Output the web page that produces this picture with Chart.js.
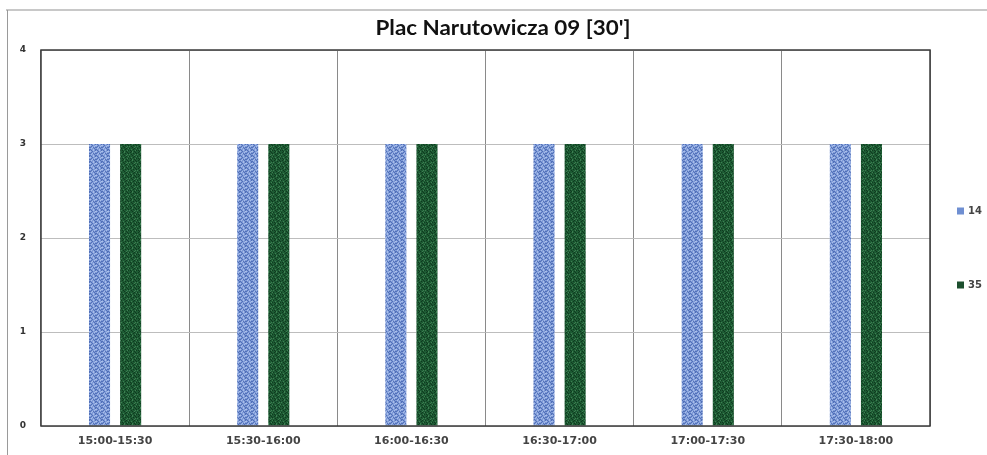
<!DOCTYPE html>
<html>
<head>
<meta charset="utf-8">
<script src="https://cdn.jsdelivr.net/npm/chart.js@4"></script>
<style>
html,body{margin:0;padding:0;background:#fff;}
#wrap{width:987px;height:455px;position:relative;}
</style>
</head>
<body>
<div id="wrap"><canvas id="c" width="987" height="455"></canvas></div>
<script>
const categories = ["15:00-15:30","15:30-16:00","16:00-16:30","16:30-17:00","17:00-17:30","17:30-18:00"];
const seriesNames = ["14","35"];
const values14 = [3,3,3,3,3,3];
const values35 = [3,3,3,3,3,3];
const yTicks = [0,1,2,3,4];
const titleText = "Plac Narutowicza 09 [30']";

function makePattern(colors, tile){
  const n = tile.length;
  const cv = document.createElement('canvas');
  cv.width = n; cv.height = n;
  const g = cv.getContext('2d');
  for(let y=0;y<n;y++) for(let x=0;x<n;x++){
    g.fillStyle = colors[tile[y][x]];
    g.fillRect(x,y,1,1);
  }
  return g.createPattern(cv,'repeat');
}
const blueTile = [
  [0,1,0,2,0,1],
  [2,0,1,0,0,2],
  [0,1,0,0,2,0],
  [1,0,2,1,0,1],
  [0,2,0,0,1,0],
  [1,0,0,2,0,1]
];
const greenTile = [
  [0,0,1,0,2,0,0,1],
  [1,0,0,0,0,1,0,0],
  [0,2,0,1,0,0,0,2],
  [0,0,0,0,1,0,2,0],
  [2,1,0,0,0,0,1,0],
  [0,0,0,2,0,1,0,0],
  [1,0,1,0,0,0,0,2],
  [0,0,0,1,2,0,1,0]
];
const bluePat = makePattern(['#7f9bd8','#5271b8','#a9bfea'], blueTile);
const greenPat = makePattern(['#1d5a33','#0f3a1f','#3d7f52'], greenTile);
const legendColors = ['#6f8fd2','#1c4f2e'];

const framePlugin = {
  id:'frame',
  beforeDraw(chart){
    const c = chart.ctx;
    c.save();
    c.strokeStyle = '#c8c8c8'; c.lineWidth = 2;
    c.beginPath(); c.moveTo(6,10); c.lineTo(987,10); c.stroke();
    c.strokeStyle = '#9a9a9a'; c.lineWidth = 1;
    c.beginPath(); c.moveTo(7.5,10); c.lineTo(7.5,455); c.stroke();
    c.restore();
  },
  afterDraw(chart){
    const c = chart.ctx, a = chart.chartArea;
    c.save();
    c.strokeStyle = '#3a3a3a'; c.lineWidth = 1.5;
    c.strokeRect(a.left, a.top, a.right-a.left, a.bottom-a.top);
    // title
    c.save();
    c.translate(503, 29);
    c.scale(1.12, 1);
    c.font = 'bold 20px Lato';
    c.fillStyle = '#111';
    c.textAlign = 'center';
    c.textBaseline = 'middle';
    c.fillText(titleText, 0, 0);
    c.restore();
    // legend
    const ys = [211, 285];
    c.font = 'bold 10px "DejaVu Sans"';
    c.textBaseline = 'middle';
    chart.data.datasets.forEach((ds,i)=>{
      c.fillStyle = legendColors[i];
      c.fillRect(957, ys[i]-3.5, 7, 7);
      c.fillStyle = '#444';
      c.fillText(ds.label, 968, ys[i]+0.5);
    });
    c.restore();
  }
};

new Chart(document.getElementById('c'), {
  type:'bar',
  data:{
    labels: categories,
    datasets:[
      {label: seriesNames[0], data: values14, backgroundColor: bluePat, categoryPercentage:0.42, barPercentage:0.677},
      {label: seriesNames[1], data: values35, backgroundColor: greenPat, categoryPercentage:0.42, barPercentage:0.677}
    ]
  },
  options:{
    responsive:false,
    animation:false,
    devicePixelRatio:1,
    layout:{padding:{left:0,right:57,top:50,bottom:0}},
    plugins:{
      legend:{display:false},
      tooltip:{enabled:false},
      title:{display:false}
    },
    scales:{
      x:{
        offset:true,
        grid:{offset:true,color:'#8a8a8a',lineWidth:1,drawTicks:false},
        border:{display:false},
        ticks:{color:'#444',font:{family:'DejaVu Sans',size:11,weight:'bold'},padding:9,maxRotation:0},
        afterFit(s){ s.height = 29; }
      },
      y:{
        min:0,max:4,
        afterBuildTicks(s){ s.ticks = yTicks.map(v=>({value:v})); },
        grid:{color:'#bdbdbd',lineWidth:1,drawTicks:false},
        border:{display:false},
        ticks:{color:'#333',font:{family:'DejaVu Sans',size:9,weight:'bold'},padding:15},
        afterFit(s){ s.width = 41; }
      }
    }
  },
  plugins:[framePlugin]
});
</script>
</body>
</html>
